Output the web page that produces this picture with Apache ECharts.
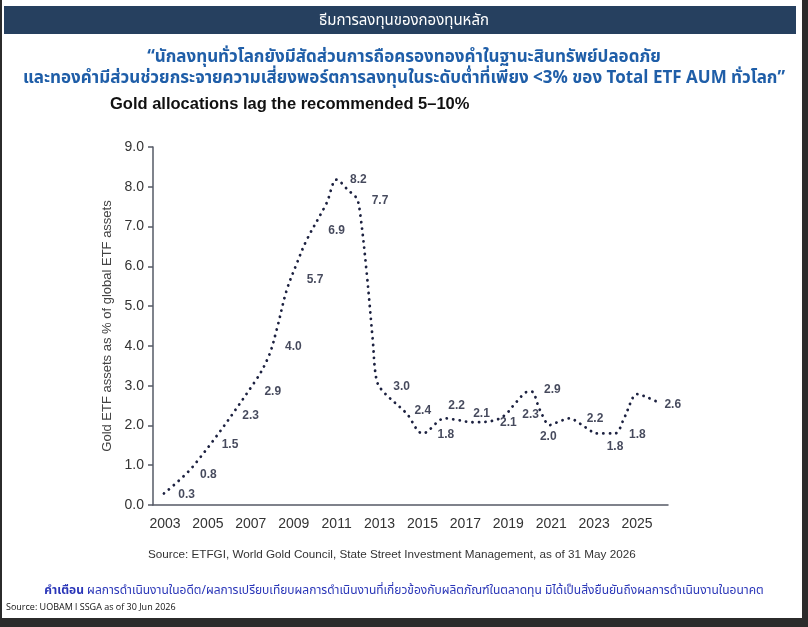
<!DOCTYPE html>
<html>
<head>
<meta charset="utf-8">
<script src="https://cdn.jsdelivr.net/npm/echarts@6/dist/echarts.min.js"></script>
<style>
  html, body { margin: 0; padding: 0; background: #2b2b2b; }
  #chart { width: 808px; height: 627px; }
</style>
</head>
<body>
<div id="chart"></div>
<script>
// axis categories (every other year)
const yearLabels = ['2003', '2005', '2007', '2009', '2011', '2013', '2015', '2017', '2019', '2021', '2023', '2025'];

// dotted line (year, % of global ETF assets)
const traceYears = [2002.51, 2003.88, 2006.75, 2007.40, 2007.76, 2008.23, 2008.70, 2009.16, 2010.09, 2010.56,
  2011.10, 2011.49, 2011.65, 2011.96, 2012.24, 2012.42, 2012.73, 2013.82, 2014.57, 2015.61,
  2016.15, 2016.93, 2017.86, 2018.40, 2018.95, 2019.49, 2019.65, 2020.03, 2020.50, 2020.89,
  2021.43, 2021.82, 2022.36, 2022.60, 2023.53, 2023.92, 2024.38, 2024.54, 2025.01, 2025.47];
const traceValues = [0.29, 0.98, 3.10, 3.75, 4.40, 5.40, 6.07, 6.66, 7.59, 8.18,
  7.91, 7.71, 7.34, 5.83, 4.15, 3.14, 2.85, 2.30, 1.80, 2.18,
  2.14, 2.08, 2.12, 2.26, 2.60, 2.85, 2.85, 2.39, 2.01, 2.09,
  2.18, 2.07, 1.88, 1.80, 1.80, 2.14, 2.72, 2.79, 2.71, 2.60];

// yearly values written on the chart, 2003 .. 2025
const annualValues = [0.3, 0.8, 1.5, 2.3, 2.9, 4.0, 5.7, 6.9, 8.2, 7.7, 3.0, 2.4, 1.8,
  2.2, 2.1, 2.1, 2.3, 2.9, 2.0, 2.2, 1.8, 1.8, 2.6];
// where each value label sits (axis coordinates)
const labelYears = [2003.57, 2004.58, 2005.59, 2006.55, 2007.58, 2008.54, 2009.55, 2010.56, 2011.57, 2012.58,
  2013.59, 2014.57, 2015.65, 2016.15, 2017.31, 2018.56, 2019.60, 2020.61, 2020.42, 2022.60,
  2023.53, 2024.57, 2026.22];
const labelLevels = [0.27, 0.77, 1.51, 2.24, 2.86, 3.98, 5.66, 6.89, 8.17, 7.66,
  2.97, 2.36, 1.78, 2.49, 2.29, 2.07, 2.28, 2.89, 1.72, 2.18,
  1.46, 1.78, 2.53];

const thaiFont = "'Noto Sans Thai', 'Noto Sans', 'DejaVu Sans', sans-serif";
const latinFont = "'Liberation Sans', Arial, sans-serif";

const chart = echarts.init(document.getElementById('chart'));

const option = {
  backgroundColor: '#2b2b2b',
  animation: false,
  graphic: [
    { type: 'rect', z: -10, shape: { x: 2, y: 0, width: 800, height: 618 }, style: { fill: '#ffffff' } },
    { type: 'rect', z: -9, shape: { x: 4, y: 6, width: 792, height: 28 }, style: { fill: '#26405f' } }
  ],
  title: [
    {
      text: 'ธีมการลงทุนของกองทุนหลัก',
      left: 'center', top: 9,
      textStyle: { color: '#ffffff', fontSize: 15, fontWeight: 'normal', fontFamily: thaiFont }
    },
    {
      text: '“นักลงทุนทั่วโลกยังมีสัดส่วนการถือครองทองคำในฐานะสินทรัพย์ปลอดภัย',
      left: 'center', top: 45,
      textStyle: { color: '#1f5ea8', fontSize: 17, fontWeight: 'bold', fontFamily: thaiFont }
    },
    {
      text: 'และทองคำมีส่วนช่วยกระจายความเสี่ยงพอร์ตการลงทุนในระดับต่ำที่เพียง <3% ของ Total ETF AUM ทั่วโลก”',
      left: 'center', top: 66,
      textStyle: { color: '#1f5ea8', fontSize: 17, fontWeight: 'bold', fontFamily: thaiFont }
    },
    {
      text: 'Gold allocations lag the recommended 5–10%',
      left: 110, top: 96, padding: 0,
      textStyle: { color: '#111111', fontSize: 16.5, fontWeight: 'bold', fontFamily: latinFont }
    },
    {
      text: 'Source: ETFGI, World Gold Council, State Street Investment Management, as of 31 May 2026',
      left: 148, top: 549, padding: 0,
      textStyle: { color: '#333333', fontSize: 11.7, fontWeight: 'normal', fontFamily: latinFont }
    },
    {
      text: '{b|คำเตือน} ผลการดำเนินงานในอดีต/ผลการเปรียบเทียบผลการดำเนินงานที่เกี่ยวข้องกับผลิตภัณฑ์ในตลาดทุน มิได้เป็นสิ่งยืนยันถึงผลการดำเนินงานในอนาคต',
      left: 'center', top: 581,
      textStyle: {
        color: '#2a36b8', fontSize: 12, fontWeight: 'normal', fontFamily: thaiFont,
        rich: { b: { color: '#2a36b8', fontSize: 12, fontWeight: 'bold', fontFamily: thaiFont } }
      }
    },
    {
      text: 'Source: UOBAM l SSGA as of 30 Jun 2026',
      left: 6, top: 603, padding: 0,
      textStyle: { color: '#111111', fontSize: 9, fontWeight: 'normal', fontFamily: "'Open Sans', sans-serif" }
    }
  ],
  grid: { left: 153, right: 140, top: 147, bottom: 122 },
  xAxis: [
    {
      type: 'category',
      data: yearLabels,
      boundaryGap: true,
      axisLine: { lineStyle: { color: '#555a66', width: 1.5 } },
      axisTick: { interval: 0, length: 5, lineStyle: { color: '#555a66', width: 1.5 } },
      // labels sit left of the band centre, as in the source chart
      axisLabel: { interval: 0, color: '#333333', fontSize: 14, margin: 12, padding: [0, 19, 0, 0], fontFamily: latinFont },
      splitLine: { show: false }
    },
    {
      type: 'value',
      min: 2002, max: 2026,
      show: false
    }
  ],
  yAxis: {
    type: 'value',
    min: 0, max: 9, interval: 1,
    name: 'Gold ETF assets as % of global ETF assets',
    nameLocation: 'middle',
    nameGap: 38,
    nameTextStyle: { color: '#444444', fontSize: 13, fontFamily: latinFont },
    axisLine: { show: true, lineStyle: { color: '#555a66', width: 1.5 } },
    axisTick: { show: true, length: 5, lineStyle: { color: '#555a66', width: 1.5 } },
    axisLabel: { color: '#333333', fontSize: 14, margin: 9, fontFamily: latinFont, formatter: v => v.toFixed(1) },
    splitLine: { show: false }
  },
  series: [
    {
      type: 'line',
      xAxisIndex: 1,
      data: traceYears.map((y, i) => [y, traceValues[i]]),
      showSymbol: false,
      smooth: 0.35,
      lineStyle: { color: '#1c2140', width: 2.8, type: [0.1, 6.4], cap: 'round' }
    },
    {
      type: 'scatter',
      xAxisIndex: 1,
      clip: false,
      symbolSize: 0,
      data: labelYears.map((y, i) => [y, labelLevels[i], annualValues[i]]),
      label: {
        show: true,
        position: 'inside',
        formatter: p => p.value[2].toFixed(1),
        color: '#161b33',
        fontSize: 12,
        fontWeight: 'bold',
        fontFamily: latinFont
      }
    }
  ]
};

chart.setOption(option);
</script>
</body>
</html>
